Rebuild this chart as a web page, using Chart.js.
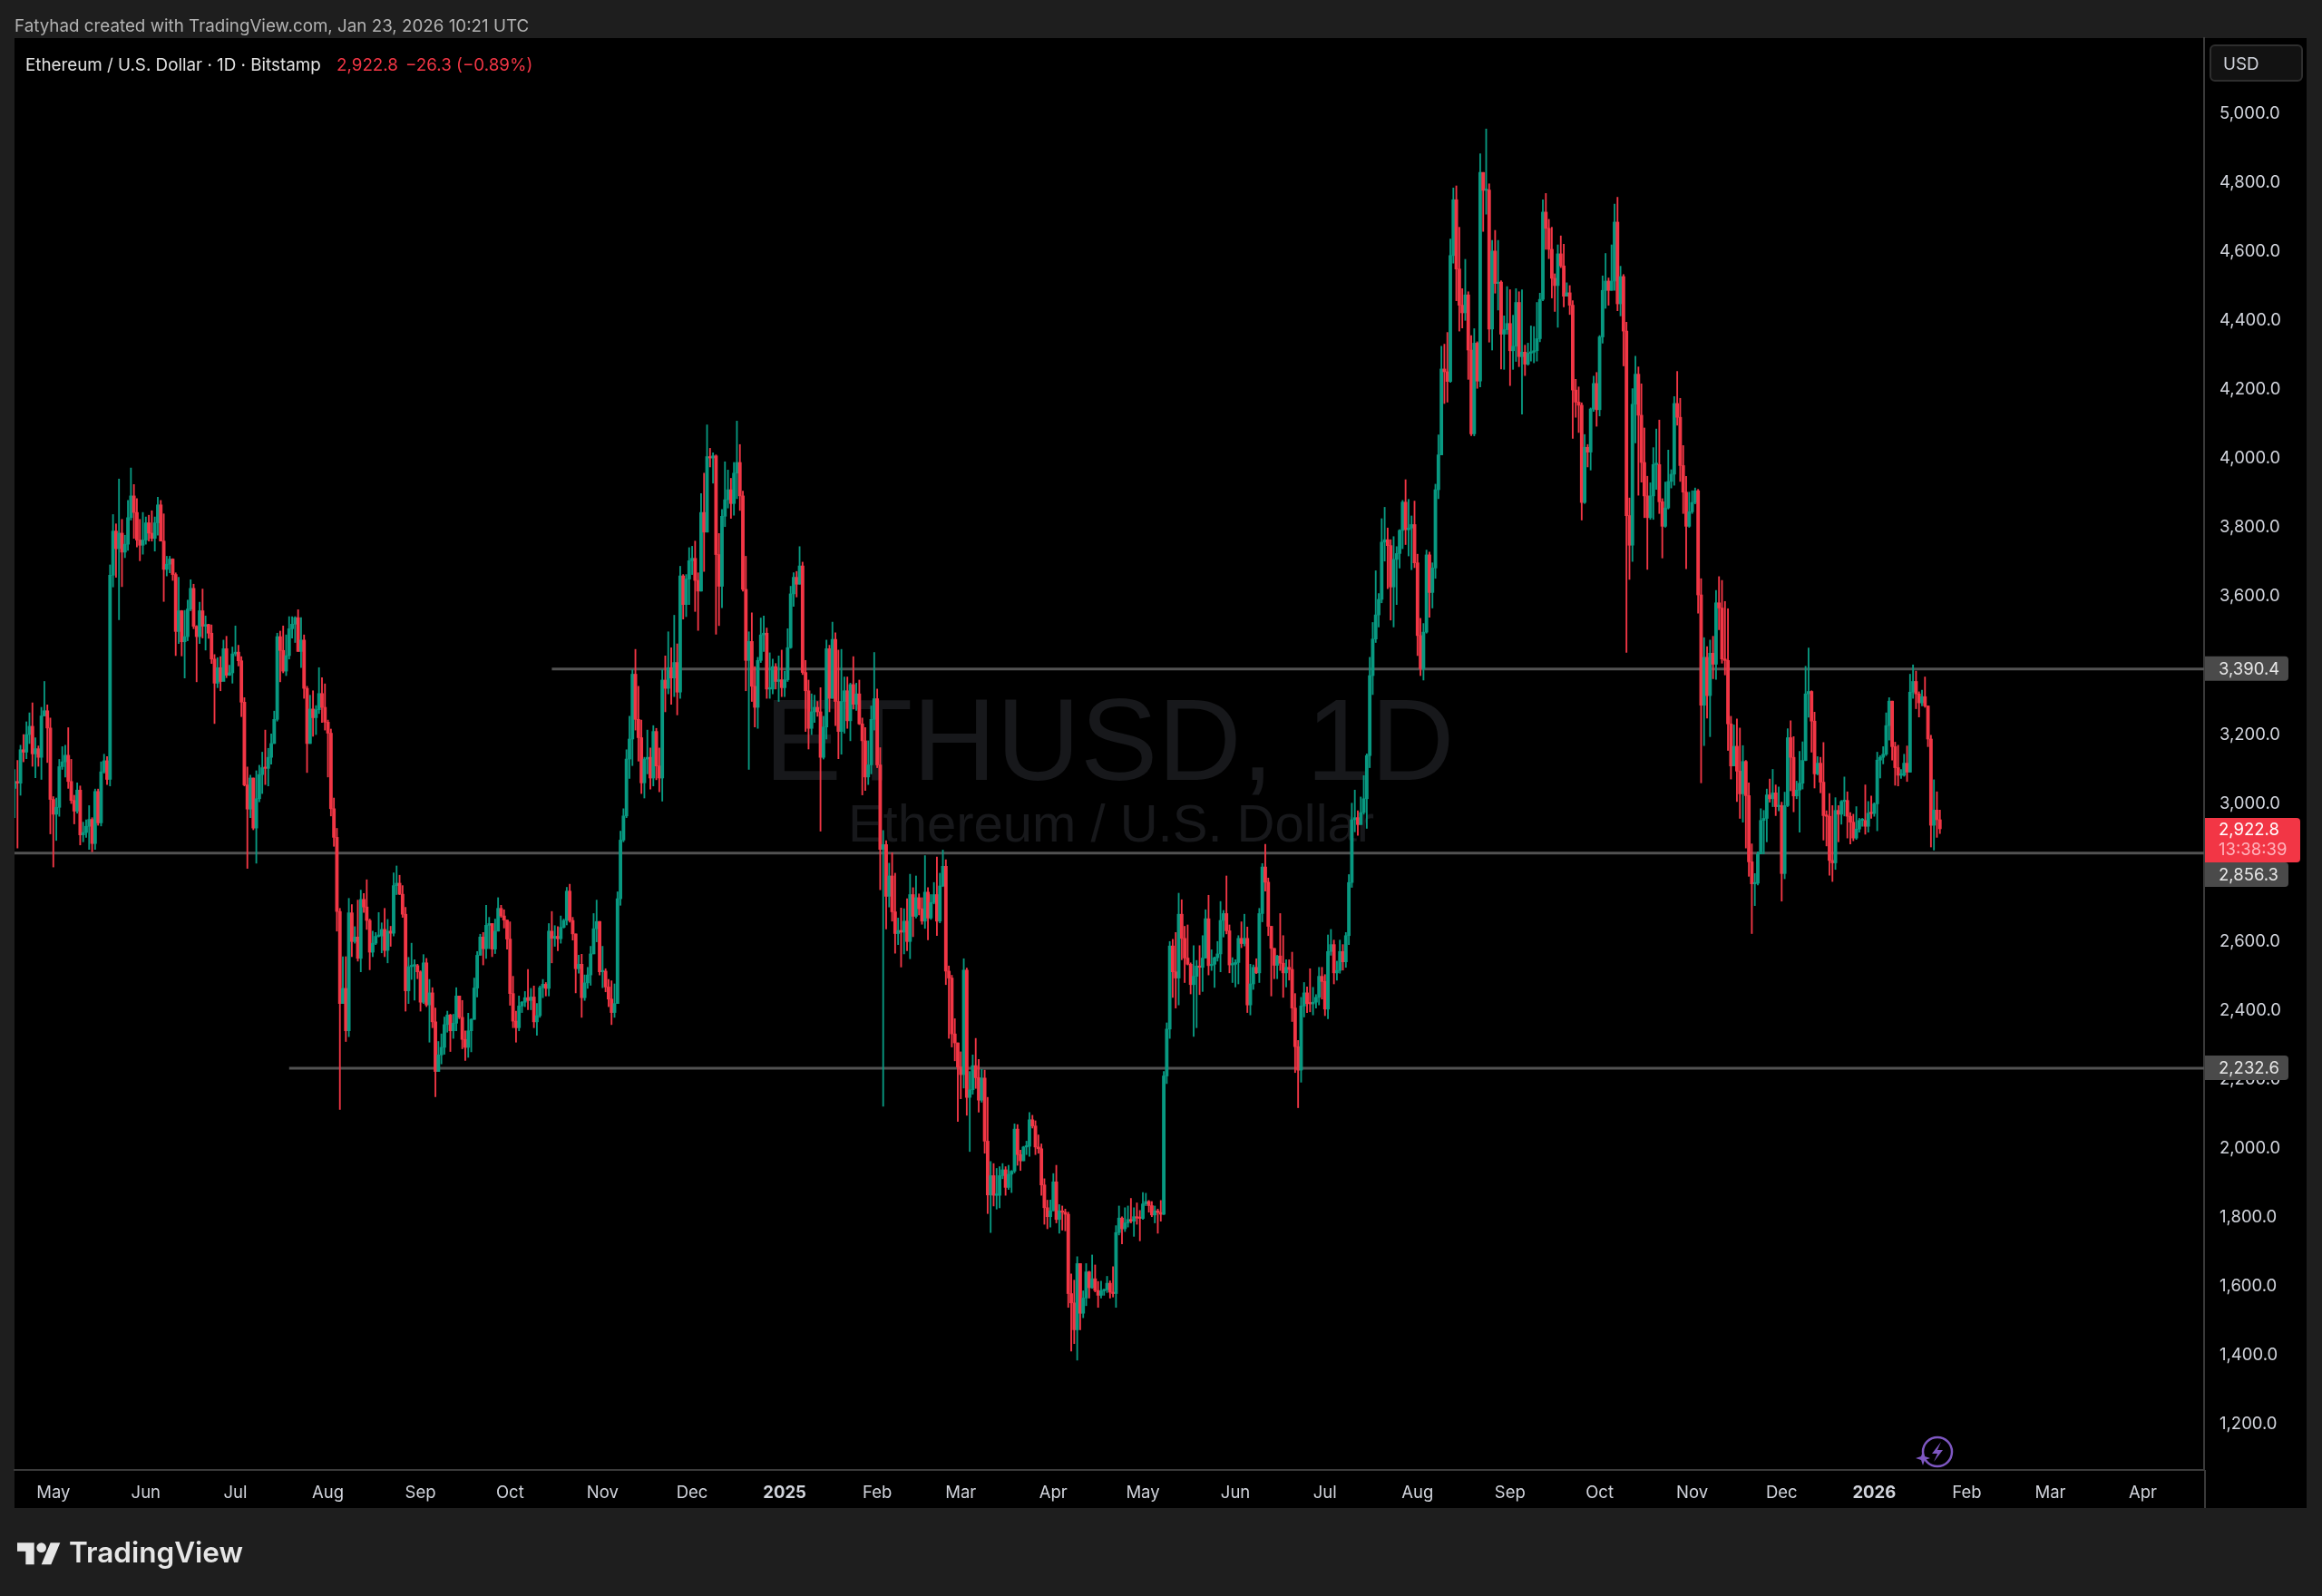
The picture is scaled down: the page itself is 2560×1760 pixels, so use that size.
<!DOCTYPE html>
<html>
<head>
<meta charset="utf-8">
<title>ETHUSD, 1D</title>
<script src="https://cdn.jsdelivr.net/npm/chart.js@4"></script>
<style>
  html, body { margin: 0; padding: 0; background: #1e1e1e; }
  canvas { display: block; }
</style>
</head>
<body>
<canvas id="ethChart" width="2560" height="1760"></canvas>
<script>
// daily candles, first one is 18 Apr 2024, one line per month
var opens = [
3040,3060,3055,3152,3145,3196,3220,3140,3155,3130,3250,3265,3215,
3008,2965,2985,3103,3117,3136,3060,3005,2974,3035,2905,2912,2930,2950,2880,3031,2940,3088,3120,3066,3658,3786,3735,3780,3725,3748,3825,3888,3840,3760,3745,
3760,3810,3780,3765,3810,3862,3757,3675,3690,3705,3660,3495,3555,3465,3480,3560,3620,3510,3480,3555,3510,3515,3490,3415,3345,3390,3350,3445,3368,3375,
3430,3435,3410,3290,3050,2980,3070,2925,3010,3080,3100,3098,3130,3170,3240,3480,3440,3380,3425,3503,3516,3535,3437,3470,3330,3170,3270,3245,3268,3315,3275,
3232,3200,2981,2898,2683,2416,2460,2337,2679,2596,2609,2547,2718,2696,2657,2565,2591,2611,2612,2631,2570,2626,2620,2758,2765,2733,2675,2453,2523,2525,2526,
2508,2420,2534,2412,2447,2363,2219,2267,2289,2355,2383,2337,2359,2438,2376,2312,2289,2337,2370,2461,2556,2609,2575,2643,2648,2574,2626,2692,2670,2658,
2603,2445,2365,2346,2409,2420,2433,2425,2435,2363,2381,2462,2472,2460,2626,2605,2611,2604,2637,2657,2742,2657,2618,2517,2530,2433,2476,2499,2560,2633,2654,
2508,2510,2464,2429,2390,2416,2720,2890,2960,3125,3183,3371,3240,3187,3056,3125,3130,3070,3205,3105,3070,3354,3330,3390,3360,3405,3319,3656,3573,3647,
3700,3707,3643,3612,3840,3783,4002,3998,4004,3718,3626,3829,3877,3906,3866,3954,3985,3888,3617,3411,3466,3336,3275,3411,3485,3490,3328,3328,3393,3350,3355,
3332,3355,3448,3604,3652,3632,3685,3376,3323,3214,3262,3275,3262,3130,3218,3445,3301,3472,3292,3205,3292,3323,3236,3341,3284,3314,3227,3178,3073,3108,3240,
3300,3108,2863,2877,2727,2786,2682,2619,2628,2623,2655,2596,2732,2669,2723,2691,2655,2739,2664,2709,2732,2655,2757,2814,2510,2490,2328,2302,
2232,2210,2513,2144,2166,2236,2201,2136,2200,2017,1861,1917,1860,1860,1917,1934,1883,1921,1930,2052,1978,1960,2000,2002,2079,2061,2000,1995,1890,1824,1798,
1815,1899,1790,1815,1811,1805,1575,1548,1470,1662,1518,1562,1638,1592,1618,1584,1570,1583,1586,1605,1579,1575,1752,1794,1763,1780,1790,1785,1798,1794,
1793,1835,1842,1830,1803,1815,1810,1805,2206,2342,2583,2508,2490,2675,2605,2548,2530,2471,2495,2525,2521,2548,2662,2526,2530,2549,2560,2657,2677,2627,2528,
2530,2535,2605,2590,2605,2412,2473,2521,2505,2677,2812,2768,2640,2576,2527,2554,2533,2505,2521,2515,2403,2291,2223,2409,2447,2416,2415,2420,2434,2495,
2480,2400,2567,2587,2505,2512,2567,2537,2613,2767,2949,2955,2935,2970,3010,3135,3367,3473,3543,3588,3754,3761,3744,3624,3704,3721,3788,3870,3790,3795,3805,
3694,3483,3387,3493,3717,3608,3679,3906,4007,4256,4248,4220,4585,4747,4546,4441,4419,4471,4311,4068,4331,4221,4826,4774,4775,4372,4598,4504,4508,4357,4370,
4388,4309,4322,4449,4292,4305,4270,4302,4305,4309,4344,4458,4711,4664,4603,4519,4498,4590,4555,4467,4477,4441,4195,4160,4151,3869,4029,4015,4140,4214,
4138,4349,4484,4511,4484,4511,4682,4445,4524,4366,3831,3745,4154,4241,4122,3985,3888,3825,3888,3979,3979,3871,3800,3853,3930,3951,4156,4116,3976,3899,3800,
3842,3869,3903,3601,3281,3420,3309,3432,3400,3578,3563,3415,3411,3227,3105,3162,3090,3024,3118,3019,2827,2763,2765,2850,2947,2953,3021,3010,3027,2987,
2990,2793,2990,3187,3130,3018,3035,3055,3121,3314,3321,3235,3082,3113,3058,2961,2959,2831,2824,2976,2965,3002,3005,2959,2942,2896,2922,2947,2947,2930,2968,
2967,2995,3122,3130,3139,3222,3293,3161,3100,3078,3078,3113,3087,3319,3350,3314,3288,3306,3279,3183,2933,2977,2949
];
var highs = [
3095,3121,3165,3196,3233,3259,3288,3187,3163,3275,3350,3282,3244,
3016,3012,3124,3161,3165,3216,3124,3020,3056,3047,2942,2949,2990,2955,3038,3038,3117,3139,3132,3688,3834,3807,3937,3820,3774,3875,3969,3921,3880,3820,3840,
3827,3832,3845,3827,3884,3875,3836,3713,3713,3706,3665,3652,3556,3556,3586,3645,3632,3512,3580,3618,3540,3516,3514,3428,3419,3422,3470,3481,3397,3450,
3511,3455,3422,3303,3102,3078,3070,3091,3107,3145,3209,3156,3198,3264,3490,3496,3511,3485,3538,3538,3538,3558,3535,3485,3336,3310,3323,3280,3390,3361,3343,
3238,3212,3012,2924,2692,2552,2552,2721,2703,2639,2716,2745,2735,2775,2661,2626,2622,2680,2650,2692,2660,2640,2795,2815,2788,2758,2695,2550,2591,2543,2530,
2511,2558,2547,2486,2462,2403,2306,2328,2377,2394,2385,2385,2462,2438,2425,2337,2388,2372,2490,2567,2617,2622,2701,2666,2648,2661,2723,2701,2688,2658,
2653,2495,2394,2438,2422,2451,2515,2460,2467,2416,2467,2486,2477,2648,2683,2642,2639,2670,2661,2753,2762,2666,2618,2556,2559,2499,2521,2582,2677,2716,2654,
2582,2517,2486,2482,2473,2740,2916,2981,3152,3249,3384,3443,3336,3238,3130,3209,3157,3222,3214,3157,3384,3424,3494,3448,3542,3459,3684,3660,3660,3738,
3742,3757,3665,3895,3954,4094,4026,4013,4007,3779,3849,3987,3963,3939,3985,4105,4037,3902,3713,3494,3549,3393,3420,3534,3540,3505,3433,3415,3402,3424,3441,
3380,3503,3626,3665,3669,3741,3696,3411,3354,3314,3310,3292,3332,3249,3470,3455,3522,3491,3441,3443,3363,3363,3345,3422,3345,3354,3244,3216,3178,3279,3434,
3328,3158,2918,2888,2823,2853,2794,2664,2693,2691,2720,2791,2752,2786,2734,2723,2845,2752,2732,2767,2841,2794,2861,2833,2525,2498,2372,2302,
2276,2546,2519,2219,2267,2315,2254,2225,2223,2144,1958,1952,1938,1943,1952,1943,1947,1932,2067,2065,1991,2002,2017,2100,2092,2076,2035,2009,1908,1846,1846,
1923,1947,1833,1829,1820,1811,1632,1614,1682,1662,1583,1662,1640,1687,1658,1610,1611,1588,1625,1612,1653,1772,1829,1798,1824,1829,1851,1824,1838,1816,
1868,1866,1845,1842,1829,1820,1845,2219,2360,2596,2602,2622,2736,2717,2640,2644,2534,2584,2541,2584,2613,2688,2730,2572,2551,2596,2712,2686,2786,2644,2549,
2543,2613,2653,2675,2638,2530,2528,2546,2692,2822,2878,2780,2640,2576,2556,2677,2613,2543,2543,2565,2445,2309,2434,2477,2464,2517,2463,2442,2521,2521,
2500,2615,2631,2600,2539,2600,2587,2622,2790,2997,3035,2975,3015,3077,3140,3420,3521,3671,3605,3822,3855,3795,3761,3770,3741,3790,3875,3935,3878,3830,3873,
3719,3533,3518,3731,3725,3694,3922,4065,4322,4328,4362,4633,4781,4787,4667,4489,4574,4480,4353,4373,4335,4880,4826,4952,4793,4629,4658,4629,4512,4410,4495,
4486,4412,4489,4480,4486,4325,4331,4381,4379,4449,4476,4747,4765,4690,4667,4532,4616,4642,4618,4506,4498,4454,4226,4204,4158,4066,4037,4143,4235,4246,
4353,4526,4591,4520,4616,4734,4754,4554,4530,4392,3882,4199,4293,4262,4213,4085,3945,3926,4028,4082,4108,3880,3928,4021,3964,4176,4249,4171,4034,3945,3899,
3903,3911,3907,3648,3477,3451,3470,3481,3614,3654,3643,3582,3561,3249,3224,3241,3215,3164,3121,3056,2879,2793,2856,2981,2976,3038,3067,3095,3050,3044,
3000,3029,3213,3236,3190,3061,3147,3175,3394,3447,3323,3261,3132,3130,3173,2975,3025,2990,3013,2990,3005,3073,3030,2970,2965,2987,2953,2953,3050,3002,3018,
2998,3145,3135,3161,3259,3303,3293,3174,3165,3095,3139,3163,3371,3398,3380,3320,3325,3363,3279,3194,3065,3030,2977
];
var lows = [
2955,2867,3020,3117,3126,3170,3104,3071,3104,3066,3250,3115,2908,
2812,2889,2959,3095,3073,3040,2996,2937,2968,2876,2885,2898,2863,2856,2863,2933,2931,3084,3051,3047,3624,3652,3529,3625,3709,3730,3818,3765,3740,3700,3719,
3748,3757,3757,3728,3774,3757,3582,3656,3665,3643,3425,3460,3424,3360,3468,3555,3503,3349,3460,3476,3441,3475,3402,3228,3332,3323,3358,3361,3367,3345,
3424,3395,3248,3047,2808,2955,2920,2823,3001,3025,3051,3047,3110,3170,3235,3349,3375,3367,3415,3476,3463,3437,3390,3301,3086,3170,3191,3196,3257,3231,3209,
3073,2960,2872,2626,2109,2416,2306,2320,2552,2591,2539,2508,2680,2631,2514,2552,2587,2609,2563,2552,2534,2582,2612,2732,2732,2666,2394,2416,2486,2426,2488,
2394,2416,2407,2304,2346,2146,2219,2241,2269,2333,2277,2315,2337,2372,2285,2251,2260,2276,2370,2435,2556,2528,2547,2575,2552,2561,2626,2666,2635,2574,
2411,2346,2304,2337,2390,2407,2398,2398,2346,2324,2376,2433,2438,2438,2534,2582,2569,2591,2635,2644,2652,2600,2447,2504,2376,2425,2460,2469,2560,2595,2499,
2462,2450,2407,2355,2376,2416,2701,2885,2955,3069,3106,3209,3119,3025,3012,3082,3038,3047,3065,3030,3003,3262,3314,3284,3306,3253,3301,3531,3538,3573,
3660,3553,3498,3612,3669,3783,3972,3925,3487,3512,3564,3799,3853,3823,3832,3880,3846,3612,3323,3095,3292,3218,3214,3405,3437,3301,3301,3314,3328,3292,3306,
3306,3350,3446,3568,3595,3632,3370,3205,3154,3196,3231,3249,2916,3125,3183,3262,3301,3222,3126,3139,3200,3214,3178,3270,3266,3225,3021,3034,3051,3082,3209,
3100,2746,2118,2632,2696,2655,2562,2587,2522,2560,2569,2546,2610,2664,2673,2646,2634,2601,2660,2705,2613,2650,2755,2471,2315,2290,2250,2074,
2140,2171,2092,1987,2153,2170,2101,2130,1982,1807,1752,1829,1820,1824,1908,1860,1877,1868,1925,1947,1932,1960,1978,1973,2055,1978,1982,1860,1776,1763,1768,
1815,1780,1750,1759,1757,1535,1408,1430,1382,1470,1505,1540,1562,1590,1580,1535,1562,1570,1578,1562,1565,1535,1745,1719,1755,1768,1780,1741,1776,1728,
1790,1830,1811,1798,1780,1750,1785,1804,2184,2315,2434,2403,2412,2543,2477,2528,2444,2321,2346,2442,2451,2548,2499,2512,2463,2539,2508,2609,2618,2505,2477,
2464,2473,2578,2583,2390,2383,2457,2503,2477,2653,2742,2613,2438,2488,2488,2512,2434,2464,2484,2364,2216,2114,2188,2377,2390,2392,2383,2403,2412,2429,
2381,2372,2556,2473,2484,2504,2513,2521,2587,2753,2914,2904,2935,2965,2924,3100,3312,3463,3508,3578,3699,3619,3528,3508,3573,3679,3735,3747,3714,3674,3680,
3425,3367,3354,3490,3536,3563,3649,3880,4007,4156,4160,4217,4563,4454,4366,4375,4397,4226,4063,4062,4200,4204,4655,4705,4334,4311,4476,4427,4256,4255,4357,
4208,4255,4278,4263,4125,4237,4267,4279,4274,4279,4335,4454,4603,4576,4462,4423,4377,4550,4436,4467,4414,4055,4116,4072,3818,3866,3972,3963,4133,4090,
4120,4331,4432,4441,4484,4484,4425,4410,4265,3434,3646,3698,4042,3890,3928,3825,3675,3820,3820,3907,3837,3708,3797,3850,3911,3919,4093,3930,3837,3677,3797,
3837,3865,3548,3056,3164,3244,3190,3358,3356,3500,3403,3369,3150,3067,3105,3002,2953,2942,2867,2785,2619,2700,2760,2850,2850,2885,3000,2987,2961,2975,
2713,2778,2987,3033,2972,3010,2913,3038,3120,3246,3145,3041,3079,3027,2890,2873,2788,2770,2805,2885,2936,2960,2896,2879,2888,2892,2913,2930,2907,2913,2953,
2959,2917,3070,3111,3135,3180,3122,3049,3047,3069,3075,3060,3087,3301,3271,3247,3279,3275,3161,2870,2861,2898,2909
];
var closes = [
3060,3055,3152,3145,3196,3220,3140,3155,3130,3250,3265,3215,3008,
2965,2985,3103,3117,3136,3060,3005,2974,3035,2905,2912,2930,2950,2880,3031,2940,3088,3120,3066,3658,3786,3735,3780,3725,3748,3825,3888,3840,3760,3745,3760,
3810,3780,3765,3810,3862,3757,3675,3690,3705,3660,3495,3555,3465,3480,3560,3620,3510,3480,3555,3510,3515,3490,3415,3345,3390,3350,3445,3368,3375,3430,
3435,3410,3290,3050,2980,3070,2925,3010,3080,3100,3098,3130,3170,3240,3480,3440,3380,3425,3503,3516,3535,3437,3470,3330,3170,3270,3245,3268,3315,3275,3232,
3200,2981,2898,2683,2416,2460,2337,2679,2596,2609,2547,2718,2696,2657,2565,2591,2611,2612,2631,2570,2626,2620,2758,2765,2733,2675,2453,2523,2525,2526,2508,
2420,2534,2412,2447,2363,2219,2267,2289,2355,2383,2337,2359,2438,2376,2312,2289,2337,2370,2461,2556,2609,2575,2643,2648,2574,2626,2692,2670,2658,2603,
2445,2365,2346,2409,2420,2433,2425,2435,2363,2381,2462,2472,2460,2626,2605,2611,2604,2637,2657,2742,2657,2618,2517,2530,2433,2476,2499,2560,2633,2654,2508,
2510,2464,2429,2390,2416,2720,2890,2960,3125,3183,3371,3240,3187,3056,3125,3130,3070,3205,3105,3070,3354,3330,3390,3360,3405,3319,3656,3573,3647,3700,
3707,3643,3612,3840,3783,4002,3998,4004,3718,3626,3829,3877,3906,3866,3954,3985,3888,3617,3411,3466,3336,3275,3411,3485,3490,3328,3328,3393,3350,3355,3332,
3355,3448,3604,3652,3632,3685,3376,3323,3214,3262,3275,3262,3130,3218,3445,3301,3472,3292,3205,3292,3323,3236,3341,3284,3314,3227,3178,3073,3108,3240,3300,
3108,2863,2877,2727,2786,2682,2619,2628,2623,2655,2596,2732,2669,2723,2691,2655,2739,2664,2709,2732,2655,2757,2814,2510,2490,2328,2302,2232,
2210,2513,2144,2166,2236,2201,2136,2200,2017,1861,1917,1860,1860,1917,1934,1883,1921,1930,2052,1978,1960,2000,2002,2079,2061,2000,1995,1890,1824,1798,1815,
1899,1790,1815,1811,1805,1575,1548,1470,1662,1518,1562,1638,1592,1618,1584,1570,1583,1586,1605,1579,1575,1752,1794,1763,1780,1790,1785,1798,1794,1793,
1835,1842,1830,1803,1815,1810,1805,2206,2342,2583,2508,2490,2675,2605,2548,2530,2471,2495,2525,2521,2548,2662,2526,2530,2549,2560,2657,2677,2627,2528,2530,
2535,2605,2590,2605,2412,2473,2521,2505,2677,2812,2768,2640,2576,2527,2554,2533,2505,2521,2515,2403,2291,2223,2409,2447,2416,2415,2420,2434,2495,2480,
2400,2567,2587,2505,2512,2567,2537,2613,2767,2949,2955,2935,2970,3010,3135,3367,3473,3543,3588,3754,3761,3744,3624,3704,3721,3788,3870,3790,3795,3805,3694,
3483,3387,3493,3717,3608,3679,3906,4007,4256,4248,4220,4585,4747,4546,4441,4419,4471,4311,4068,4331,4221,4826,4774,4775,4372,4598,4504,4508,4357,4370,4388,
4309,4322,4449,4292,4305,4270,4302,4305,4309,4344,4458,4711,4664,4603,4519,4498,4590,4555,4467,4477,4441,4195,4160,4151,3869,4029,4015,4140,4214,4138,
4349,4484,4511,4484,4511,4682,4445,4524,4366,3831,3745,4154,4241,4122,3985,3888,3825,3888,3979,3979,3871,3800,3853,3930,3951,4156,4116,3976,3899,3800,3842,
3869,3903,3601,3281,3420,3309,3432,3400,3578,3563,3415,3411,3227,3105,3162,3090,3024,3118,3019,2827,2763,2765,2850,2947,2953,3021,3010,3027,2987,2990,
2793,2990,3187,3130,3018,3035,3055,3121,3314,3321,3235,3082,3113,3058,2961,2959,2831,2824,2976,2965,3002,3005,2959,2942,2896,2922,2947,2947,2930,2968,2967,
2995,3122,3130,3139,3222,3293,3161,3100,3078,3078,3113,3087,3319,3350,3314,3288,3306,3279,3183,2933,2977,2949,2922.8
];

// time axis, positions are day numbers counted from the first candle
var tickDays = [13,44,74,105,136,166,197,227,258,289,317,348,378,409,439,470,501,531,562,592,623,654,682,713];
var tickLabels = ["May","Jun","Jul","Aug","Sep","Oct","Nov","Dec","2025","Feb","Mar","Apr","May","Jun","Jul","Aug","Sep","Oct","Nov","Dec","2026","Feb","Mar","Apr"];
var priceTicks = [1200,1400,1600,1800,2000,2200,2400,2600,2800,3000,3200,3400,3600,3800,4000,4200,4400,4600,4800,5000];

// the three drawn levels and the day each one starts on
var levels = [3390.4, 2856.3, 2232.6];
var levelStarts = [180, 0, 92];
var lastDay = 733.5;

// my pixel readings came out about 4 low against the labelled level lines
var readOffset = 4;

var UP = "#089981", DOWN = "#F23645";
var FONT = "Inter, 'Noto Sans', sans-serif";

function fmt(v) {
  return v.toLocaleString("en-US", { minimumFractionDigits: 1, maximumFractionDigits: 1 });
}

var wickData = [], bodyData = [], candleColors = [];
for (var i = 0; i < closes.length; i++) {
  wickData.push({ x: i, y: [lows[i] + readOffset, highs[i] + readOffset] });
  bodyData.push({ x: i, y: [opens[i] + readOffset, closes[i] + readOffset] });
  candleColors.push(closes[i] >= opens[i] ? UP : DOWN);
}

var datasets = [
  { type: "bar", data: bodyData, backgroundColor: candleColors, barThickness: 3.2, minBarLength: 1.5, grouped: false, order: 1 },
  { type: "bar", data: wickData, backgroundColor: candleColors, barThickness: 1.2, grouped: false, order: 2 }
];
levels.forEach(function (lvl, n) {
  datasets.push({
    type: "line",
    data: [{ x: levelStarts[n], y: lvl }, { x: lastDay, y: lvl }],
    borderColor: "#525252",
    borderWidth: 3,
    pointRadius: 0,
    order: 3
  });
});

function priceTag(ctx, y, w, h, fill, color, text) {
  ctx.fillStyle = fill;
  ctx.beginPath();
  ctx.roundRect(2431, y, w, h, [0, 4, 4, 0]);
  ctx.fill();
  ctx.fillStyle = color;
  ctx.fillText(text, 2446, y + h / 2 + 1);
}

var framePlugin = {
  id: "frame",
  beforeDraw: function (chart) {
    var ctx = chart.ctx;
    ctx.save();
    ctx.fillStyle = "#1e1e1e";
    ctx.fillRect(0, 0, 2560, 1760);
    ctx.fillStyle = "#000000";
    ctx.fillRect(16, 42, 2527, 1621);
    ctx.restore();
  },
  beforeDatasetsDraw: function (chart) {
    // watermark sits behind the candles
    var ctx = chart.ctx;
    ctx.save();
    ctx.textAlign = "center";
    ctx.textBaseline = "alphabetic";
    ctx.fillStyle = "#17181b";
    ctx.font = "128px 'Liberation Sans'";
    ctx.fillText("ETHUSD, 1D", 1223, 860);
    ctx.font = "58px 'Liberation Sans'";
    ctx.fillText("Ethereum / U.S. Dollar", 1225, 928);
    ctx.restore();
  },
  afterDraw: function (chart) {
    var ctx = chart.ctx;
    var yScale = chart.scales.y;
    ctx.save();

    // right pane separator carries on past the time axis
    ctx.fillStyle = "#3a3a3a";
    ctx.fillRect(2430, 1621, 2, 42);

    // header lines
    ctx.textBaseline = "middle";
    ctx.textAlign = "left";
    ctx.font = "18.8px " + FONT;
    ctx.fillStyle = "#b2b2b2";
    ctx.fillText("Fatyhad created with TradingView.com, Jan 23, 2026 10:21 UTC", 16, 29);
    ctx.fillStyle = "#e0e0e0";
    ctx.fillText("Ethereum / U.S. Dollar · 1D · Bitstamp", 28, 72);
    ctx.fillStyle = DOWN;
    ctx.fillText("2,922.8", 371, 72);
    ctx.fillText("−26.3 (−0.89%)", 447, 72);

    // USD button
    ctx.fillStyle = "#121212";
    ctx.strokeStyle = "#2e2e2e";
    ctx.lineWidth = 2;
    ctx.beginPath();
    ctx.roundRect(2437, 50, 101, 39, 5);
    ctx.fill();
    ctx.stroke();
    ctx.fillStyle = "#d1d4dc";
    ctx.fillText("USD", 2451, 71);

    // level and price tags on the right scale
    ctx.font = "18.5px " + FONT;
    priceTag(ctx, yScale.getPixelForValue(levels[0]) - 14, 92, 27, "#4a4a4a", "#e6e6e6", fmt(levels[0]));
    priceTag(ctx, 951, 92, 27, "#4a4a4a", "#e6e6e6", fmt(levels[1]));
    priceTag(ctx, yScale.getPixelForValue(levels[2]) - 14, 92, 27, "#4a4a4a", "#e6e6e6", fmt(levels[2]));
    ctx.fillStyle = DOWN;
    ctx.beginPath();
    ctx.roundRect(2431, 902, 105, 49, [0, 4, 4, 0]);
    ctx.fill();
    ctx.fillStyle = "#ffffff";
    ctx.fillText(fmt(closes[closes.length - 1]), 2446, 915);
    ctx.fillStyle = "#ffb3bc";
    ctx.fillText("13:38:39", 2446, 937);

    // small purple lightning badge
    ctx.strokeStyle = "#7e57c2";
    ctx.lineWidth = 2.5;
    ctx.beginPath();
    ctx.arc(2136, 1601, 16, 0, Math.PI * 2);
    ctx.stroke();
    ctx.fillStyle = "#7e57c2";
    ctx.beginPath();
    ctx.moveTo(2140, 1590);
    ctx.lineTo(2130, 1603);
    ctx.lineTo(2136, 1603);
    ctx.lineTo(2132, 1612);
    ctx.lineTo(2142, 1599);
    ctx.lineTo(2136, 1599);
    ctx.closePath();
    ctx.fill();
    ctx.beginPath();
    ctx.moveTo(2120, 1600);
    ctx.lineTo(2122, 1606);
    ctx.lineTo(2128, 1608);
    ctx.lineTo(2122, 1610);
    ctx.lineTo(2120, 1616);
    ctx.lineTo(2118, 1610);
    ctx.lineTo(2112, 1608);
    ctx.lineTo(2118, 1606);
    ctx.closePath();
    ctx.fill();

    // footer logo and name
    ctx.fillStyle = "#e6e6e6";
    ctx.translate(19, 1696);
    ctx.scale(1.333, 1.333);
    ctx.fill(new Path2D("M14 22H7V11H0V4h14v18zM28 22h-8l7.5-18h8L28 22z"));
    ctx.beginPath();
    ctx.arc(20, 8, 4, 0, Math.PI * 2);
    ctx.fill();
    ctx.setTransform(1, 0, 0, 1, 0, 0);
    ctx.font = "600 31.5px " + FONT;
    ctx.fillText("TradingView", 76, 1714);
    ctx.restore();
  }
};

var ctx = document.getElementById("ethChart").getContext("2d");
var ethChart = new Chart(ctx, {
  type: "bar",
  data: { datasets: datasets },
  plugins: [framePlugin],
  options: {
    responsive: false,
    animation: false,
    devicePixelRatio: 1,
    layout: { padding: { left: 16, top: 42, right: 17, bottom: 97 } },
    plugins: { legend: { display: false }, tooltip: { enabled: false } },
    scales: {
      x: {
        type: "linear",
        offset: false,
        min: 0,
        max: lastDay,
        afterBuildTicks: function (axis) {
          axis.ticks = tickDays.map(function (d) { return { value: d }; });
        },
        afterFit: function (axis) { axis.height = 42; },
        grid: { display: false, offset: false },
        border: { display: true, color: "#3a3a3a", width: 2 },
        ticks: {
          color: "#d1d4dc",
          autoSkip: false,
          maxRotation: 0,
          padding: 6,
          callback: function (v, idx) { return tickLabels[idx]; },
          font: function (c) {
            var isYear = /^\d{4}$/.test(tickLabels[c.index] || "");
            return { family: FONT, size: 18.5, weight: isYear ? "700" : "400" };
          }
        }
      },
      y: {
        position: "right",
        min: 1067.6,
        max: 5219.6,
        afterBuildTicks: function (axis) {
          axis.ticks = priceTicks.map(function (p) { return { value: p }; });
        },
        afterFit: function (axis) { axis.width = 113; },
        grid: { display: false },
        border: { display: true, color: "#3a3a3a", width: 2 },
        ticks: {
          color: "#d1d4dc",
          padding: 9,
          align: "center",
          crossAlign: "near",
          callback: function (v) { return fmt(v); },
          font: { family: FONT, size: 18.5 }
        }
      }
    }
  }
});
</script>
</body>
</html>
